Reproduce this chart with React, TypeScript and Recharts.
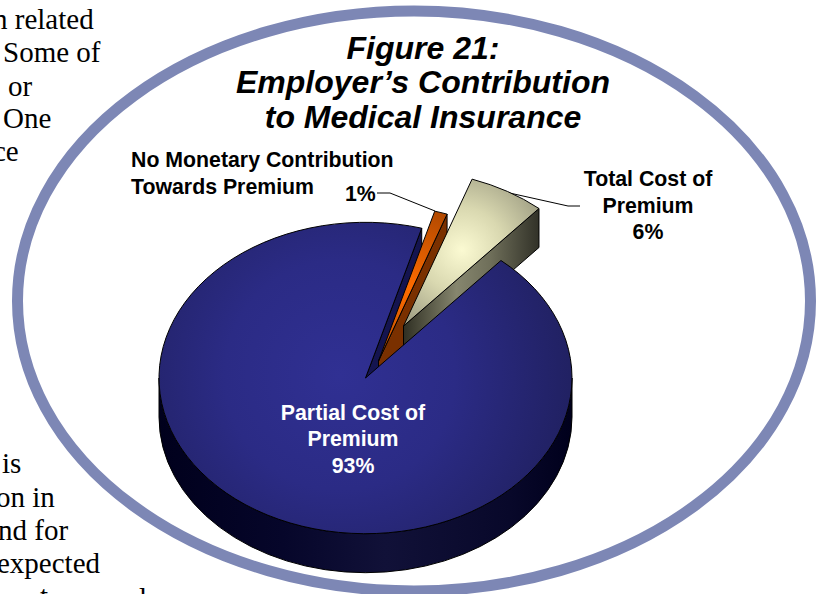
import React from 'react';
import { PieChart, Pie } from 'recharts';

// slices, clockwise, starting from the right edge of the big wedge
const sliceNames = ['Partial Cost of Premium', 'No Monetary Contribution Towards Premium', 'Total Cost of Premium'];
const sliceValues = [93, 1, 6];
const sliceKeys = ['navy', 'orange', 'cream'];

const titleLines = ['Figure 21:', 'Employer\u2019s Contribution', 'to Medical Insurance'];
const bodyTextTop = [
  { text: 'n related', x: -7, y: 29 },
  { text: 'Some of', x: 3, y: 62 },
  { text: 'or', x: 8, y: 96 },
  { text: 'One', x: 3, y: 128 },
  { text: 'ce', x: -7, y: 161 },
];
const bodyTextBottom = [
  { text: 'is', x: 2, y: 473 },
  { text: 'on in', x: -4, y: 507 },
  { text: 'nd for', x: -2, y: 540 },
  { text: 'expected', x: -3, y: 573 },
  { text: 't', x: 40, y: 606 },
  { text: 'l', x: 139, y: 608 },
];

const data = sliceNames.map((name, i) => ({ name, value: sliceValues[i] }));

const CX = 365.5;
const CY = 378;
const R = 206.5;
const TILT = 0.754;
const DEPTH = 39;
const START_ANGLE = 49;

// pulled-out slices, in pixels
const explode: Record<string, [number, number]> = {
  navy: [0, 0],
  orange: [13, -17],
  cream: [38, -52],
};
const topFill: Record<string, string> = {
  navy: 'url(#navyTop)',
  orange: 'url(#orangeTop)',
  cream: 'url(#creamTop)',
};
const wallFill: Record<string, string> = {
  navy: '#14144f',
  orange: '#7a3000',
  cream: 'url(#creamWall)',
};

const pt = (cx: number, cy: number, deg: number) => {
  const a = (deg * Math.PI) / 180;
  return [cx + R * Math.cos(a), cy - R * TILT * Math.sin(a)];
};

const sliceKey = (p: any) => sliceKeys[sliceNames.indexOf(p.name ?? p.payload?.name)];

function topPath(cx: number, cy: number, start: number, end: number) {
  const [x0, y0] = pt(cx, cy, start);
  const [x1, y1] = pt(cx, cy, end);
  const large = Math.abs(start - end) > 180 ? 1 : 0;
  return `M${cx},${cy}L${x0},${y0}A${R},${R * TILT} 0 ${large} 1 ${x1},${y1}Z`;
}

// walls go below the top faces, the big slice first so the others cover it
function WallShape(props: any) {
  const key = sliceKey(props);
  const [dx, dy] = explode[key];
  const cx = props.cx + dx;
  const cy = props.cy + dy;
  const [x1, y1] = pt(cx, cy, props.endAngle);
  return (
    <g stroke="#000" strokeWidth={1} strokeLinejoin="round">
      {key === 'navy' && (
        <path
          fill="url(#navyWall)"
          d={`M${cx - R},${cy}A${R},${R * TILT} 0 0 0 ${cx + R},${cy}L${cx + R},${cy + DEPTH}A${R},${R * TILT} 0 0 1 ${cx - R},${cy + DEPTH}Z`}
        />
      )}
      <path
        fill={wallFill[key]}
        d={`M${cx},${cy}L${x1},${y1}L${x1},${y1 + DEPTH}L${cx},${cy + DEPTH}Z`}
      />
    </g>
  );
}

function TopShape(props: any) {
  const key = sliceKey(props);
  const [dx, dy] = explode[key];
  return (
    <path
      d={topPath(props.cx + dx, props.cy + dy, props.startAngle, props.endAngle)}
      fill={topFill[key]}
      stroke="#000"
      strokeWidth={1}
      strokeLinejoin="round"
    />
  );
}

const SmallTops = (props: any) => (sliceKey(props) === 'navy' ? <g /> : <TopShape {...props} />);
const BigTop = (props: any) => (sliceKey(props) === 'navy' ? <TopShape {...props} /> : <g />);

const labelFont = { fontFamily: 'Liberation Sans', fontWeight: 700, fontSize: 21.3 };

function PartialLabel(props: any) {
  if (sliceKey(props) !== 'navy') return <g />;
  return (
    <text {...labelFont} fill="#fff" textAnchor="middle">
      <tspan x={353} y={420}>Partial Cost of</tspan>
      <tspan x={353} y={446}>Premium</tspan>
      <tspan x={353} y={473}>{sliceValues[0]}%</tspan>
    </text>
  );
}

const pieProps = {
  data,
  dataKey: 'value',
  nameKey: 'name',
  cx: CX,
  cy: CY,
  outerRadius: R,
  startAngle: START_ANGLE,
  endAngle: START_ANGLE - 360,
  isAnimationActive: false,
  stroke: 'none',
};

export default function App() {
  return (
    <div style={{ position: 'absolute', left: 0, top: 0, width: 817, height: 594, overflow: 'hidden', background: '#fff' }}>
      <PieChart width={817} height={594} margin={{ top: 0, right: 0, bottom: 0, left: 0 }}>
        <defs>
          <radialGradient id="navyTop" gradientUnits="userSpaceOnUse" cx={340} cy={375} r={230}>
            <stop offset="0" stopColor="#303093" />
            <stop offset="0.5" stopColor="#2b2b85" />
            <stop offset="1" stopColor="#212163" />
          </radialGradient>
          <linearGradient id="navyWall" gradientUnits="userSpaceOnUse" x1={158} y1={0} x2={572} y2={0}>
            <stop offset="0" stopColor="#00001c" />
            <stop offset="0.3" stopColor="#06062a" />
            <stop offset="0.55" stopColor="#111138" />
            <stop offset="0.85" stopColor="#08082a" />
            <stop offset="1" stopColor="#00001c" />
          </linearGradient>
          <radialGradient id="creamTop" gradientUnits="userSpaceOnUse" cx={462} cy={250} r={85}>
            <stop offset="0" stopColor="#fbfad2" />
            <stop offset="0.5" stopColor="#d9d8b0" />
            <stop offset="1" stopColor="#a5a488" />
          </radialGradient>
          <linearGradient id="creamWall" gradientUnits="userSpaceOnUse" x1={403} y1={0} x2={537} y2={0}>
            <stop offset="0" stopColor="#2e2e22" />
            <stop offset="0.4" stopColor="#86866e" />
            <stop offset="0.65" stopColor="#6f6f5a" />
            <stop offset="1" stopColor="#34342a" />
          </linearGradient>
          <radialGradient id="orangeTop" gradientUnits="userSpaceOnUse" cx={412} cy={290} r={85}>
            <stop offset="0" stopColor="#ff6c00" />
            <stop offset="1" stopColor="#b04800" />
          </radialGradient>
        </defs>

        <ellipse cx={414} cy={301} rx={396.5} ry={290} fill="none" stroke="#7d87b5" strokeWidth={11} />

        {[...bodyTextTop, ...bodyTextBottom].map((line) => (
          <text key={line.text + line.y} x={line.x} y={line.y} fontFamily="Liberation Serif" fontSize={29} fill="#000">
            {line.text}
          </text>
        ))}

        <text fontFamily="Liberation Sans" fontWeight={700} fontStyle="italic" fontSize={32} fill="#000" textAnchor="middle">
          <tspan x={423} y={59}>{titleLines[0]}</tspan>
          <tspan x={423} y={93}>{titleLines[1]}</tspan>
          <tspan x={423} y={128}>{titleLines[2]}</tspan>
        </text>

        <Pie {...pieProps} shape={WallShape} />
        <Pie {...pieProps} shape={SmallTops} />
        <Pie {...pieProps} shape={BigTop} label={PartialLabel} labelLine={false} />

        <text {...labelFont} fill="#000">
          <tspan x={131} y={167}>No Monetary Contribution</tspan>
          <tspan x={131} y={194}>Towards Premium</tspan>
          <tspan x={345} y={201}>{sliceValues[1]}%</tspan>
        </text>
        <text {...labelFont} fill="#000" textAnchor="middle">
          <tspan x={648} y={186}>Total Cost of</tspan>
          <tspan x={648} y={213}>Premium</tspan>
          <tspan x={648} y={239}>{sliceValues[2]}%</tspan>
        </text>
        <polyline points="377,193 390,193 435,211" fill="none" stroke="#000" strokeWidth={1} />
        <polyline points="505,192 568,206 580,206" fill="none" stroke="#000" strokeWidth={1} />
      </PieChart>
    </div>
  );
}
